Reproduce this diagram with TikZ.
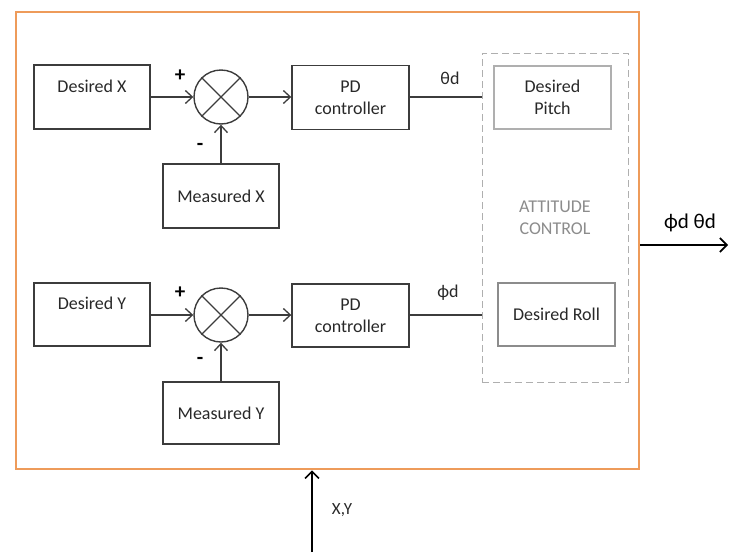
\documentclass[tikz,border=0pt]{standalone}
\usepackage{fontspec}
\setmainfont{Carlito}
\usetikzlibrary{arrows.meta,calc}
\definecolor{frameorange}{RGB}{238,155,90}
\definecolor{boxgray}{RGB}{60,60,60}
\definecolor{lightgray}{RGB}{175,175,175}
\definecolor{midgray}{RGB}{140,140,140}
\definecolor{txtgray}{RGB}{40,40,40}
\tikzset{
  blk/.style={draw=boxgray, line width=1.4pt, minimum width=116pt, minimum height=64pt, inner sep=0pt, align=center, text=txtgray, font=\fontsize{18}{22}\selectfont},
  sumnode/.style={draw=boxgray, line width=1.4pt, circle, minimum size=54pt, inner sep=0pt},
  conn/.style={draw=boxgray, line width=1.3pt},
  arr/.style={conn, -{Straight Barb[length=7pt,width=13pt]}},
  sig/.style={font=\fontsize{18}{20}\selectfont, text=txtgray, inner sep=0pt},
  pm/.style={font=\bfseries\fontsize{21}{22}\selectfont, text=black, inner sep=0pt},
  bigarr/.style={draw=black, line width=1.8pt, -{Straight Barb[length=7pt,width=14pt,line width=1.6pt]}},
}
\begin{document}
\begin{tikzpicture}[x=1pt,y=-1pt]
\useasboundingbox (0,0) rectangle (742,552);
% frame
\node[draw=frameorange, line width=2.5pt, minimum width=623pt, minimum height=457pt, inner sep=0pt] (frame) at (327.5,240.5) {};
% attitude control dashed box
\node[draw=lightgray, dashed, dash pattern=on 7pt off 4pt, line width=1pt, minimum width=146pt, minimum height=329pt, inner sep=0pt] (att) at (555,217.5) {};
\node[font=\fontsize{18}{22}\selectfont, text=midgray, align=center, inner sep=0pt] (attlbl) at (555,218) {ATTITUDE\\CONTROL};
\node[blk, draw=lightgray, minimum width=117pt, minimum height=63pt] (pitch) at (552.5,97.5) {Desired\\Pitch};
\node[blk, draw=midgray, minimum width=117pt, minimum height=63pt] (roll) at (556.5,314.5) {Desired Roll};
% X loop
\node[blk] (dX) at (92,97) {Desired X\\\phantom{X}};
\node[sumnode] (s1) at (221,97) {};
\draw[conn] (s1.north east) -- (s1.south west) (s1.north west) -- (s1.south east);
\node[blk] (mX) at (221,196) {Measured X};
\node[blk, minimum width=117pt] (pd1) at (350.5,97.5) {PD\\controller};
\draw[arr] (dX.east) -- (s1.west);
\draw[arr] (mX.north) -- (s1.south);
\draw[arr] (s1.east) -- (s1.east -| pd1.west);
\draw[conn] (pd1.east |- s1.east) -- (s1.east -| att.west);
\node[pm] (p1) at (180,76) {+};
\node[pm] (m1) at (200,147) {-};
\node[sig] (th) at (450,78) {θd};
% Y loop
\node[blk, minimum height=63pt] (dY) at (92,314.5) {Desired Y\\\phantom{X}};
\node[sumnode] (s2) at (221,315) {};
\draw[conn] (s2.north east) -- (s2.south west) (s2.north west) -- (s2.south east);
\node[blk, minimum height=62pt] (mY) at (221,413) {Measured Y};
\node[blk, minimum width=117pt, minimum height=63pt] (pd2) at (350.5,315.5) {PD\\controller};
\draw[arr] (dY.east |- s2.west) -- (s2.west);
\draw[arr] (mY.north) -- (s2.south);
\draw[arr] (s2.east) -- (s2.east -| pd2.west);
\draw[conn] (pd2.east |- s2.east) -- (s2.east -| att.west);
\node[pm] (p2) at (180,293) {+};
\node[pm] (m2) at (200,361) {-};
\node[sig] (ph) at (448,293) {ϕd};
% outputs / inputs
\coordinate (outend) at (728,245);
\draw[bigarr] (frame.east |- outend) -- (outend);
\node[sig, text=black, font=\fontsize{21}{22}\selectfont] (outlbl) at (690,223) {ϕd θd};
\coordinate (instart) at (312,552);
\draw[bigarr] (instart) -- (instart |- frame.south);
\node[sig, font=\fontsize{17}{18}\selectfont] (xy) at (342,510) {X,Y};
\end{tikzpicture}
\end{document}
